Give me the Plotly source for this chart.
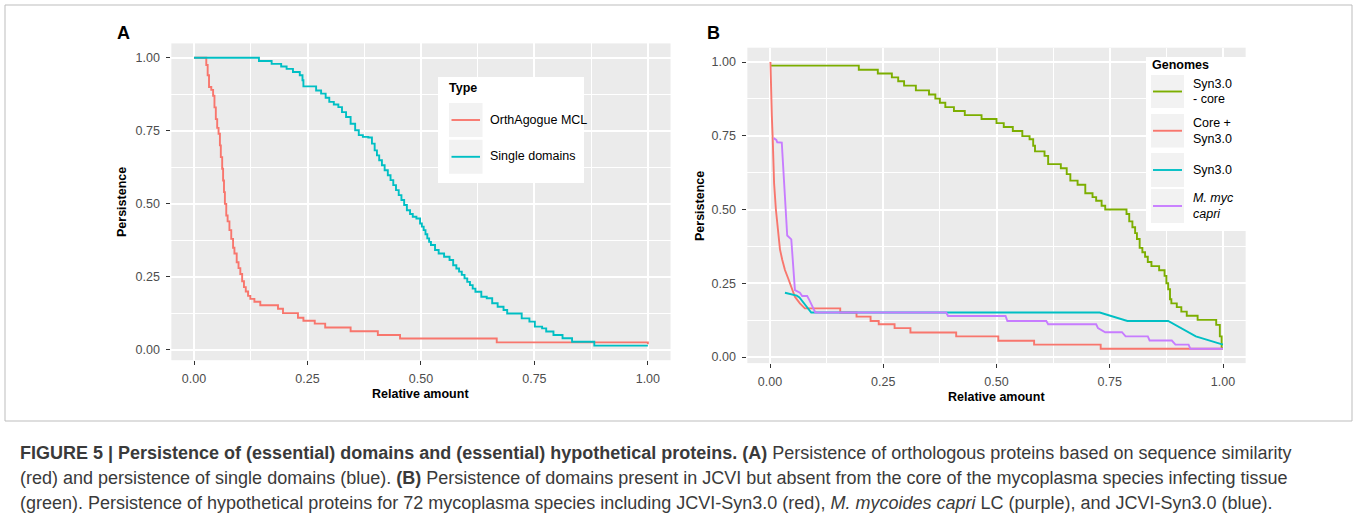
import plotly.graph_objects as go

W, H = 1357, 521

# ---------------- data ----------------
# Panel A (step curves: x where level starts, level)
a_orth_x = [0, 0.027, 0.030, 0.033, 0.038, 0.042, 0.045, 0.048, 0.051, 0.054, 0.057, 0.059, 0.062,
            0.064, 0.066, 0.068, 0.071, 0.074, 0.078, 0.082, 0.086, 0.089, 0.094, 0.098, 0.102, 0.106,
            0.110, 0.114, 0.119, 0.124, 0.133, 0.146, 0.185, 0.196, 0.229, 0.241, 0.266, 0.289, 0.345,
            0.405, 0.454, 0.667, 1.0]
a_orth_y = [1.0, 0.975, 0.94, 0.90, 0.89, 0.87, 0.83, 0.79, 0.76, 0.74, 0.70, 0.66, 0.62,
            0.58, 0.54, 0.50, 0.46, 0.44, 0.41, 0.38, 0.35, 0.33, 0.30, 0.28, 0.26, 0.235,
            0.215, 0.20, 0.185, 0.175, 0.165, 0.153, 0.141, 0.126, 0.110, 0.100, 0.090, 0.077, 0.064,
            0.051, 0.039, 0.026, 0.020]

a_single_x = [0, 0.143, 0.171, 0.192, 0.204, 0.218, 0.233, 0.239, 0.241, 0.269, 0.280, 0.290, 0.298,
              0.308, 0.318, 0.326, 0.335, 0.345, 0.355, 0.363, 0.372, 0.384, 0.392, 0.398, 0.403, 0.408,
              0.414, 0.420, 0.427, 0.433, 0.439, 0.445, 0.451, 0.457, 0.463, 0.469, 0.476, 0.482, 0.490,
              0.498, 0.502, 0.506, 0.510, 0.514, 0.518, 0.522, 0.531, 0.539, 0.551, 0.563, 0.571, 0.578,
              0.584, 0.590, 0.596, 0.602, 0.608, 0.614, 0.620, 0.633, 0.645, 0.657, 0.669, 0.682, 0.690,
              0.722, 0.739, 0.751, 0.767, 0.776, 0.792, 0.812, 0.833, 0.882, 1.0]
a_single_y = [1.0, 0.989, 0.979, 0.970, 0.962, 0.951, 0.940, 0.923, 0.902, 0.888, 0.877, 0.863, 0.849,
              0.840, 0.831, 0.814, 0.797, 0.774, 0.752, 0.735, 0.729, 0.727, 0.706, 0.683, 0.666, 0.649,
              0.632, 0.615, 0.598, 0.581, 0.564, 0.547, 0.530, 0.513, 0.496, 0.478, 0.465, 0.456, 0.450,
              0.433, 0.422, 0.410, 0.396, 0.382, 0.370, 0.359, 0.342, 0.330, 0.319, 0.308, 0.290, 0.279,
              0.268, 0.257, 0.245, 0.233, 0.222, 0.210, 0.199, 0.182, 0.177, 0.160, 0.148, 0.137, 0.125,
              0.108, 0.097, 0.080, 0.074, 0.063, 0.051, 0.040, 0.028, 0.015, 0.015]

# Panel B
b_core_x = [0, 0.196, 0.238, 0.269, 0.283, 0.296, 0.322, 0.351, 0.365, 0.375, 0.387, 0.406, 0.430,
            0.467, 0.500, 0.516, 0.536, 0.557, 0.573, 0.581, 0.585, 0.606, 0.614, 0.642, 0.655, 0.663,
            0.679, 0.696, 0.712, 0.720, 0.732, 0.740, 0.787, 0.793, 0.800, 0.806, 0.810, 0.816, 0.822,
            0.828, 0.834, 0.842, 0.859, 0.871, 0.875, 0.879, 0.883, 0.886, 0.898, 0.908, 0.920, 0.944,
            0.985, 0.993, 0.997, 1.0]
b_core_y = [0.988, 0.974, 0.961, 0.948, 0.935, 0.920, 0.904, 0.890, 0.876, 0.862, 0.847, 0.834, 0.820,
            0.807, 0.793, 0.780, 0.766, 0.749, 0.738, 0.716, 0.697, 0.682, 0.654, 0.640, 0.620, 0.598,
            0.584, 0.555, 0.542, 0.530, 0.513, 0.500, 0.485, 0.460, 0.440, 0.420, 0.400, 0.370, 0.355,
            0.340, 0.322, 0.308, 0.294, 0.275, 0.250, 0.230, 0.196, 0.182, 0.169, 0.154, 0.140, 0.126,
            0.109, 0.070, 0.030, 0.030]

b_coresyn_x = [0.001, 0.002, 0.004, 0.006, 0.009, 0.013, 0.018, 0.022, 0.027, 0.033, 0.040, 0.048, 0.055,
               0.066, 0.077, 0.155, 0.155, 0.191, 0.191, 0.222, 0.222, 0.240, 0.240, 0.275, 0.275,
               0.310, 0.310, 0.411, 0.411, 0.504, 0.504, 0.583, 0.583, 0.730, 0.730, 1.0]
b_coresyn_y = [1.0, 0.92, 0.82, 0.74, 0.59, 0.50, 0.42, 0.365, 0.33, 0.295, 0.267, 0.233, 0.204,
               0.182, 0.165, 0.165, 0.151, 0.151, 0.137, 0.137, 0.122, 0.122, 0.111, 0.111, 0.098,
               0.098, 0.083, 0.083, 0.070, 0.070, 0.055, 0.055, 0.042, 0.042, 0.028, 0.028]

b_syn_x = [0.033, 0.059, 0.065, 0.091, 0.728, 0.789, 0.879, 0.940, 1.0]
b_syn_y = [0.218, 0.208, 0.202, 0.151, 0.151, 0.122, 0.122, 0.070, 0.042]

b_myc_x = [0.008, 0.014, 0.016, 0.026, 0.038, 0.047, 0.055, 0.063, 0.066, 0.071, 0.082, 0.087, 0.100,
           0.389, 0.393, 0.520, 0.524, 0.610, 0.614, 0.720, 0.724, 0.740, 0.777, 0.785, 0.834, 0.838,
           0.887, 0.895, 0.924, 0.928, 1.0]
b_myc_y = [0.742, 0.736, 0.728, 0.727, 0.412, 0.399, 0.227, 0.221, 0.218, 0.207, 0.207, 0.193, 0.151,
           0.151, 0.139, 0.139, 0.122, 0.122, 0.111, 0.111, 0.098, 0.084, 0.084, 0.070, 0.070, 0.056,
           0.056, 0.042, 0.042, 0.028, 0.028]

tick_vals = [0, 0.25, 0.5, 0.75, 1.0]
tick_text = ["0.00", "0.25", "0.50", "0.75", "1.00"]
minor_vals = [0.125, 0.375, 0.625, 0.875]

legend_a = ["OrthAgogue MCL", "Single domains"]
legend_b = [["Syn3.0", "- core"], ["Core +", "Syn3.0"], ["Syn3.0"], ["<i>M. myc</i>", "<i>capri</i>"]]

RED, TEAL, GREEN, PURPLE = "#F8766D", "#00BFC4", "#7CAE00", "#C77CFF"
FONT = "Liberation Sans, Arial, sans-serif"
LW = 1.9

def px(x):
    return x / W

def py(y):
    return 1 - y / H

fig = go.Figure()

fig.add_trace(go.Scatter(x=a_orth_x, y=a_orth_y, mode="lines", line=dict(color=RED, width=LW, shape="hv"),
                         xaxis="x", yaxis="y", name=legend_a[0]))
fig.add_trace(go.Scatter(x=a_single_x, y=a_single_y, mode="lines", line=dict(color=TEAL, width=LW, shape="hv"),
                         xaxis="x", yaxis="y", name=legend_a[1]))

fig.add_trace(go.Scatter(x=b_core_x, y=b_core_y, mode="lines", line=dict(color=GREEN, width=LW, shape="hv"),
                         xaxis="x2", yaxis="y2", name="Syn3.0 - core"))
fig.add_trace(go.Scatter(x=b_coresyn_x, y=b_coresyn_y, mode="lines", line=dict(color=RED, width=LW),
                         xaxis="x2", yaxis="y2", name="Core + Syn3.0"))
fig.add_trace(go.Scatter(x=b_syn_x, y=b_syn_y, mode="lines", line=dict(color=TEAL, width=LW),
                         xaxis="x2", yaxis="y2", name="Syn3.0"))
fig.add_trace(go.Scatter(x=b_myc_x, y=b_myc_y, mode="lines", line=dict(color=PURPLE, width=LW),
                         xaxis="x2", yaxis="y2", name="M. myc capri"))


def axis(domain, rng, anchor):
    return dict(domain=domain, range=rng, anchor=anchor, tickmode="array", tickvals=tick_vals,
                ticktext=tick_text, ticks="outside", ticklen=4, tickwidth=1.2, tickcolor="#333333",
                tickfont=dict(family=FONT, size=12.5, color="#4D4D4D"), showgrid=True,
                gridcolor="white", gridwidth=1.5, zeroline=False, showline=False,
                minor=dict(tickvals=minor_vals, showgrid=True, gridcolor="white", gridwidth=0.7, ticks=""),
                fixedrange=True)

xa = axis([px(171.35), px(670.55)], [-0.05, 1.05], "y")
ya = axis([py(360.2), py(43.4)], [-0.035, 1.049], "x")
xb = axis([px(747.35), px(1245.65)], [-0.05, 1.05], "y2")
yb = axis([py(363.1), py(47.7)], [-0.0206, 1.0486], "x2")
xa["ticklabelstandoff"] = 3
xb["ticklabelstandoff"] = 3
ya["ticklabelstandoff"] = 4
yb["ticklabelstandoff"] = 4

shapes = []
annotations = []


def text(x, y, t, size=12.5, bold=False, color="black", xanchor="center", angle=0):
    if bold:
        t = "<b>" + t + "</b>"
    annotations.append(dict(x=px(x), y=py(y), xref="paper", yref="paper", text=t, showarrow=False,
                            xanchor=xanchor, yanchor="middle", textangle=angle,
                            font=dict(family=FONT, size=size, color=color)))


def rect(x0, y0, x1, y1, fill, line=None):
    shapes.append(dict(type="rect", xref="paper", yref="paper", x0=px(x0), x1=px(x1), y0=py(y1), y1=py(y0),
                       fillcolor=fill, line=dict(width=0 if line is None else 1, color=line or fill),
                       layer="above"))


def hline(x0, x1, y, color, width=LW):
    shapes.append(dict(type="line", xref="paper", yref="paper", x0=px(x0), x1=px(x1), y0=py(y), y1=py(y),
                       line=dict(color=color, width=width), layer="above"))


# outer frame
shapes.append(dict(type="rect", xref="paper", yref="paper", x0=px(5), x1=px(1352), y0=py(421), y1=py(5),
                   line=dict(color="#BDBDBD", width=1), fillcolor="rgba(0,0,0,0)", layer="below"))

# panel labels
text(123, 33, "A", size=18, bold=True)
text(713, 33, "B", size=18, bold=True)

# axis titles
text(420.5, 393.5, "Relative amount", size=12.5, bold=True)
text(996.5, 397, "Relative amount", size=12.5, bold=True)
text(122, 202, "Persistence", size=12.5, bold=True, angle=-90)
text(700, 206, "Persistence", size=12.5, bold=True, angle=-90)

# legend A
rect(438, 77, 584, 183, "white")
text(447, 88, "Type", bold=True, xanchor="left")
for i, (lab, col) in enumerate(zip(legend_a, [RED, TEAL])):
    y0 = 103 + i * 36.8
    rect(449, y0, 482.5, y0 + 34, "#F2F2F2")
    hline(451.5, 480, y0 + 17, col)
    text(488, y0 + 16.5, lab, xanchor="left")

# legend B
rect(1146, 57, 1251, 231, "white")
text(1150, 65, "Genomes", bold=True, xanchor="left")
rows = [(75, 108), (114, 147.5), (153, 187), (189, 223)]
for (y0, y1), labs, col in zip(rows, legend_b, [GREEN, RED, TEAL, PURPLE]):
    rect(1151, y0, 1184, y1, "#F2F2F2")
    ym = (y0 + y1) / 2
    hline(1153, 1182, ym, col)
    if len(labs) == 1:
        text(1191, ym, labs[0], xanchor="left")
    else:
        text(1191, ym - 8, labs[0], xanchor="left")
        text(1191, ym + 8, labs[1], xanchor="left")

# caption
CAP = "#3A3A3A"
cap1 = ("<b>FIGURE 5 | Persistence of (essential) domains and (essential) hypothetical proteins. (A)</b> "
        "Persistence of orthologous proteins based on sequence similarity")
cap2 = ("(red) and persistence of single domains (blue). <b>(B)</b> Persistence of domains present in JCVI "
        "but absent from the core of the mycoplasma species infecting tissue")
cap3 = ("(green). Persistence of hypothetical proteins for 72 mycoplasma species including JCVI-Syn3.0 (red), "
        "<i>M. mycoides capri</i> LC (purple), and JCVI-Syn3.0 (blue).")
for yy, c in zip([453, 478, 503], [cap1, cap2, cap3]):
    text(18, yy, c, size=18, color=CAP, xanchor="left")

fig.update_layout(
    width=W, height=H, margin=dict(l=0, r=0, t=0, b=0),
    paper_bgcolor="white", plot_bgcolor="#EBEBEB", showlegend=False,
    xaxis=xa, yaxis=ya, xaxis2=xb, yaxis2=yb,
    shapes=shapes, annotations=annotations,
    font=dict(family=FONT),
)

fig.write_html("out.html")
